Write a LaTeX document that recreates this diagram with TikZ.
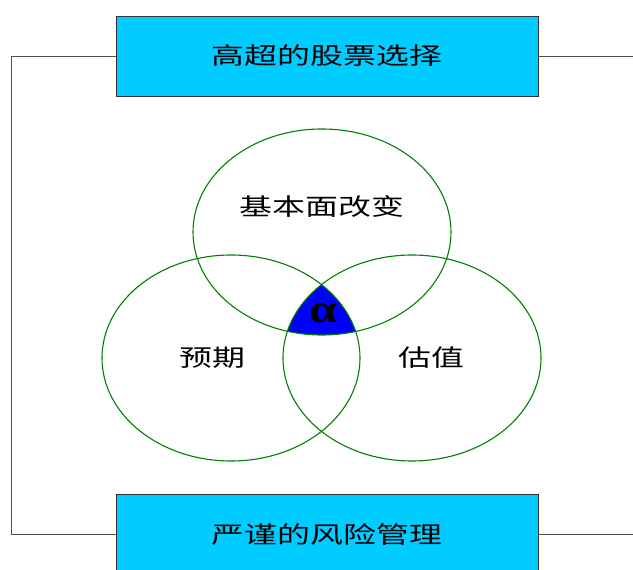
\documentclass[tikz,border=0pt]{standalone}
\usepackage{fontspec}
\usepackage{graphicx}
\newfontfamily\cjk[FakeStretch=1.4]{Noto Sans CJK SC}
\newfontfamily\grk{Liberation Serif}
\definecolor{boxcyan}{RGB}{0,204,255}
\definecolor{vgreen}{RGB}{0,128,0}
\definecolor{linegray}{RGB}{80,80,80}
\begin{document}
\begin{tikzpicture}[x=1pt,y=-1pt,
  topbox/.style={draw=black!80, line width=0.8pt, fill=boxcyan, minimum width=422pt, minimum height=80pt, inner sep=0pt,
     font=\cjk\fontsize{23.5}{27}\selectfont},
  lbl/.style={inner sep=0pt, font=\cjk\fontsize{23.5}{27}\selectfont},
  link/.style={draw=linegray, line width=0.9pt},
  venn/.style={draw=vgreen, line width=1.1pt}]
\useasboundingbox (0,0) rectangle (633,570);
% Venn
\begin{scope}
  \clip (322,232) ellipse [x radius=129pt, y radius=103pt];
  \clip (231,358) ellipse [x radius=129pt, y radius=103pt];
  \fill[blue] (412,358) ellipse [x radius=129pt, y radius=103pt];
\end{scope}
\draw[venn] (322,232) ellipse [x radius=129pt, y radius=103pt];
\draw[venn] (231,358) ellipse [x radius=129pt, y radius=103pt];
\draw[venn] (412,358) ellipse [x radius=129pt, y radius=103pt];
\node[lbl] (fund) at (322,207) {基本面改变};
\node[lbl] (expect) at (212,358) {预期};
\node[lbl] (value) at (431,358) {估值};
\node[inner sep=0pt] (alpha) at (323,313) {\scalebox{1.25}[1]{\grk\bfseries\fontsize{40}{40}\selectfont α}};
% boxes
\node[topbox] (top) at (327,56) {高超的股票选择};
\node[topbox] (bottom) at (327,534.5) {严谨的风险管理};
\coordinate (lc) at (11,0);
\coordinate (rc) at (633,0);
\draw[link] (top.west) -- (top.west -| lc) -- (bottom.west -| lc) -- (bottom.west);
\draw[link] (top.east) -- (top.east -| rc);
\draw[link] (bottom.east) -- (bottom.east -| rc);
\end{tikzpicture}
\end{document}
